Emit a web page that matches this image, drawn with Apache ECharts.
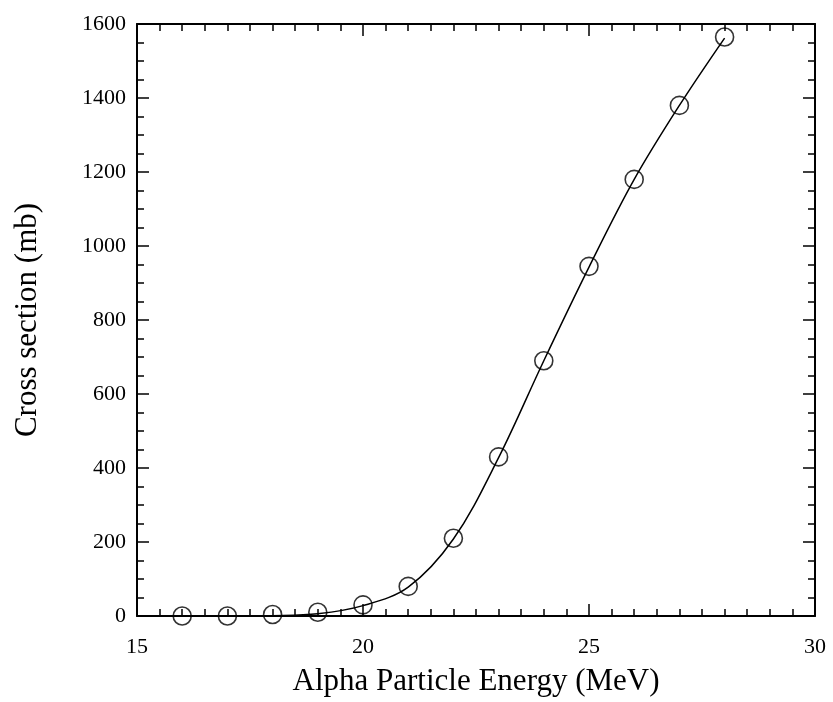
<!DOCTYPE html>
<html>
<head>
<meta charset="utf-8">
<script src="https://cdn.jsdelivr.net/npm/echarts@6/dist/echarts.min.js"></script>
<style>html,body{margin:0;padding:0;background:#fff}#c{width:833px;height:702px}</style>
</head>
<body>
<div id="c"></div>
<script>
var energy = [16, 17, 18, 19, 20, 21, 22, 23, 24, 25, 26, 27, 28];
var crossSection = [0, 0, 4, 10, 30, 80, 210, 430, 690, 945, 1180, 1380, 1565];
var fitCurve = [0, 0, 1, 6, 28, 78, 208, 428, 690, 943, 1180, 1380, 1562];
var xTicks = [15, 20, 25, 30];
var yTicks = [0, 200, 400, 600, 800, 1000, 1200, 1400, 1600];

var font = '"Liberation Serif", "DejaVu Serif", serif';
var pts = energy.map(function (e, i) { return [e, crossSection[i]]; });
var fit = energy.map(function (e, i) { return [e, fitCurve[i]]; });

function axisCommon(show) {
  return {
    axisLine: { show: true, onZero: false, lineStyle: { color: '#000', width: 2 } },
    axisTick: { show: true, inside: true, length: 12, lineStyle: { color: '#000', width: 1.5 } },
    minorTick: { show: true, length: 7, lineStyle: { color: '#000', width: 1.5 } },
    splitLine: { show: false },
    axisLabel: { show: show, color: '#000', fontFamily: font, fontSize: 22,
      formatter: function (v) { return String(v); } }
  };
}

var xBottom = Object.assign(axisCommon(true), {
  type: 'value', min: xTicks[0], max: xTicks[xTicks.length - 1], interval: 5, position: 'bottom',
  name: 'Alpha Particle Energy (MeV)', nameLocation: 'middle', nameGap: 50,
  nameTextStyle: { color: '#000', fontFamily: font, fontSize: 31 }
});
xBottom.minorTick.splitNumber = 10;
xBottom.axisLabel.margin = 20;
var xTop = Object.assign(axisCommon(false), {
  type: 'value', min: xTicks[0], max: xTicks[xTicks.length - 1], interval: 5, position: 'top'
});
xTop.minorTick.splitNumber = 10;

var yLeft = Object.assign(axisCommon(true), {
  type: 'value', min: yTicks[0], max: yTicks[yTicks.length - 1], interval: 200, position: 'left',
  name: 'Cross section (mb)', nameLocation: 'middle', nameGap: 94,
  nameTextStyle: { color: '#000', fontFamily: font, fontSize: 31 }
});
yLeft.minorTick.splitNumber = 4;
yLeft.axisLabel.margin = 11;
var yRight = Object.assign(axisCommon(false), {
  type: 'value', min: yTicks[0], max: yTicks[yTicks.length - 1], interval: 200, position: 'right'
});
yRight.minorTick.splitNumber = 4;

var chart = echarts.init(document.getElementById('c'), null, { renderer: 'canvas' });
chart.setOption({
  backgroundColor: '#fff',
  animation: false,
  grid: { left: 137, right: 18, top: 24, bottom: 85, containLabel: false },
  xAxis: [xBottom, xTop],
  yAxis: [yLeft, yRight],
  series: [
    {
      type: 'line', data: fit, smooth: 0.35, showSymbol: false, symbol: 'none',
      xAxisIndex: 0, yAxisIndex: 0,
      lineStyle: { color: '#000', width: 1.5 }, z: 2
    },
    {
      type: 'scatter', data: pts, symbol: 'circle', symbolSize: 18,
      xAxisIndex: 0, yAxisIndex: 0,
      itemStyle: { color: 'rgba(0,0,0,0)', borderColor: '#000', borderWidth: 1.6 }, z: 3
    }
  ]
});
</script>
</body>
</html>
